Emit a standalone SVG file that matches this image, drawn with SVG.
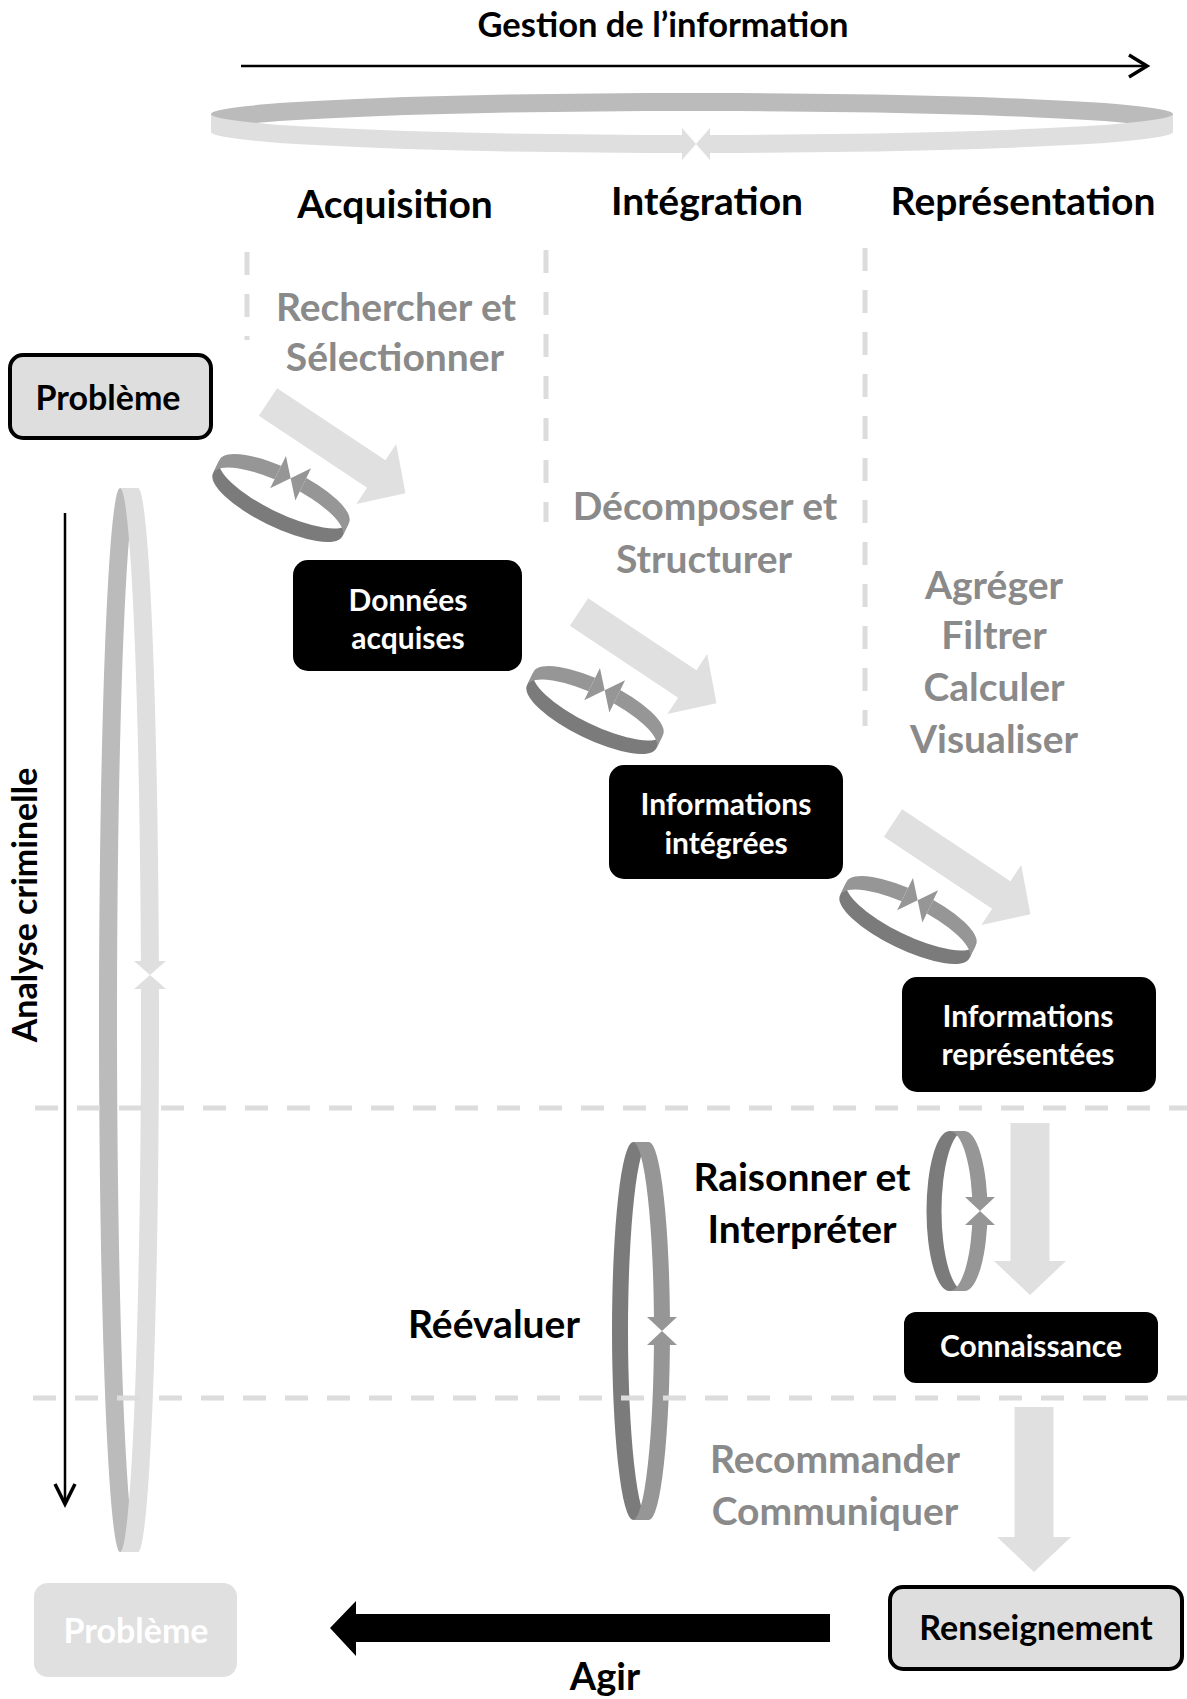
<svg xmlns="http://www.w3.org/2000/svg" xmlns:xlink="http://www.w3.org/1999/xlink" width="1187" height="1699" viewBox="0 0 1187 1699">
  <style>
    text { font-family: Lato, "Open Sans", "Liberation Sans", sans-serif; font-weight: 700; text-anchor: middle; }
    .head { font-size: 39px; fill: #000; }
    .step { font-size: 39px; fill: #8a8a8a; }
    .dark { font-size: 30px; fill: #fff; }
    .end { font-size: 34px; fill: #000; }
    .boxDark { fill: #000; }
    .boxEnd { fill: #dedede; stroke: #000; stroke-width: 4; }
    .flow { fill: #e0e0e0; }
    .guide { stroke: #dcdcdc; stroke-width: 5; stroke-dasharray: 23 19; fill: none; }
    .line { stroke: #000; stroke-width: 2.5; fill: none; }
    .chev { stroke: #000; stroke-width: 3.5; fill: none; stroke-linejoin: miter; }
    .lightBack { fill: #bbbbbb; }
    .lightFront { fill: #dfdfdf; }
    .darkBack { fill: #7b7b7b; }
    .darkFront { fill: #969696; }
  </style>
  <defs>
    <!-- clip that opens a gap in a ring band where the two arrow tips meet -->
    <clipPath id="cut" clipPathUnits="userSpaceOnUse">
      <path clip-rule="evenodd" d="M-2000,-2000 H2000 V2000 H-2000 Z M-14,-2000 V2000 H14 V-2000 Z"/>
    </clipPath>
    <clipPath id="cutS" clipPathUnits="userSpaceOnUse">
      <path clip-rule="evenodd" d="M-2000,-2000 H2000 V2000 H-2000 Z M-14,-2000 V2000 H14 V-2000 Z"/>
    </clipPath>
    <!-- small tilted cycle between two steps -->
    <g id="smallRing">
      <path class="darkBack" d="M-72,-7.5 A72 22 0 0 1 72,-7.5 L72,7.5 A72 22 0 0 0 -72,7.5 Z"/>
      <path class="darkFront" clip-path="url(#cutS)" d="M-72,-7.5 A72 22 0 0 0 72,-7.5 L72,7.5 A72 22 0 0 1 -72,7.5 Z"/>
      <path class="darkFront" d="M-14,4 L-14,40 L0,22 Z M14,4 L14,40 L0,22 Z"/>
    </g>
    <!-- broad diagonal flow arrow -->
    <path id="diagArrow" d="M0,-16.5 H130 V-36 L165,0 L130,36 V16.5 H0 Z"/>
  </defs>

  <!-- title and top arrow -->
  <g id="gestion">
    <text x="663" y="37" style="font-size:34.5px">Gestion de l’information</text>
    <path class="line" d="M241,66 H1145"/>
    <polyline class="chev" points="1129,55 1147,66 1129,77"/>
  </g>

  <!-- cycles -->
  <g id="cycles">
    <g id="ringTop" transform="translate(696,123)">
      <path class="lightBack" d="M-485,-9 A481 21 0 0 1 477,-9 L477,9 A481 21 0 0 0 -485,9 Z"/>
      <path class="lightFront" clip-path="url(#cut)" d="M-485,-9 A481 21 0 0 0 477,-9 L477,9 A481 21 0 0 1 -485,9 Z"/>
      <path class="lightFront" d="M-14,5 L-14,37 L0,21 Z M14,5 L14,37 L0,21 Z"/>
    </g>
    <g id="ringLeft" transform="translate(129,975) rotate(-90)">
      <path class="lightBack" d="M-577,-9 A532 21 0 0 1 487,-9 L487,9 A532 21 0 0 0 -577,9 Z"/>
      <path class="lightFront" clip-path="url(#cut)" d="M-577,-9 A532 21 0 0 0 487,-9 L487,9 A532 21 0 0 1 -577,9 Z"/>
      <path class="lightFront" d="M-14,5 L-14,37 L0,21 Z M14,5 L14,37 L0,21 Z"/>
    </g>
    <use xlink:href="#smallRing" transform="translate(281,498) rotate(206)"/>
    <use xlink:href="#smallRing" transform="translate(595,710) rotate(206)"/>
    <use xlink:href="#smallRing" transform="translate(908,920) rotate(206)"/>
    <g id="ringRaisonner" transform="translate(957,1211) rotate(-90)">
      <path class="darkBack" d="M-80,-7.5 A80 23 0 0 1 80,-7.5 L80,7.5 A80 23 0 0 0 -80,7.5 Z"/>
      <path class="darkFront" clip-path="url(#cut)" d="M-80,-7.5 A80 23 0 0 0 80,-7.5 L80,7.5 A80 23 0 0 1 -80,7.5 Z"/>
      <path class="darkFront" d="M-14,8 L-14,38 L0,23 Z M14,8 L14,38 L0,23 Z"/>
    </g>
    <g id="ringReevaluer" transform="translate(641,1331) rotate(-90)">
      <path class="darkBack" d="M-189,-8 A189 21 0 0 1 189,-8 L189,8 A189 21 0 0 0 -189,8 Z"/>
      <path class="darkFront" clip-path="url(#cut)" d="M-189,-8 A189 21 0 0 0 189,-8 L189,8 A189 21 0 0 1 -189,8 Z"/>
      <path class="darkFront" d="M-14,6 L-14,36 L0,21 Z M14,6 L14,36 L0,21 Z"/>
    </g>
  </g>

  <!-- phase separators -->
  <g id="guides">
    <path class="guide" d="M247,252 V340"/>
    <path class="guide" d="M546,250 V522"/>
    <path class="guide" d="M865,248 V726"/>
    <path class="guide" d="M35,1108 H1187"/>
    <path class="guide" d="M33,1398 H1187"/>
  </g>

  <!-- connectors -->
  <g id="connectors">
    <use xlink:href="#diagArrow" class="flow" transform="translate(268,402) rotate(33.6)"/>
    <use xlink:href="#diagArrow" class="flow" transform="translate(579,612) rotate(33.6)"/>
    <use xlink:href="#diagArrow" class="flow" transform="translate(893,823) rotate(33.6)"/>
    <path class="flow" d="M1010.5,1123 H1049.5 V1261 H1066 L1030,1295 L994,1261 H1010.5 Z"/>
    <path class="flow" d="M1014.5,1407 H1053.5 V1537 H1071 L1034,1572 L997,1537 H1014.5 Z"/>
    <path fill="#000" d="M830,1614 V1642 H356 V1656 L330,1628 L356,1601 V1614 Z"/>
    <path class="line" d="M65,513 V1502"/>
    <polyline class="chev" points="55,1484 65,1504 75,1484"/>
  </g>

  <!-- labels -->
  <g id="labels">
    <text class="head" x="395" y="218">Acquisition</text>
    <text class="head" x="707" y="215">Intégration</text>
    <text class="head" x="1023" y="215">Représentation</text>
    <text class="step" x="396" y="321">Rechercher et</text>
    <text class="step" x="395" y="371">Sélectionner</text>
    <text class="step" x="705" y="520">Décomposer et</text>
    <text class="step" x="704" y="573">Structurer</text>
    <text class="step" x="994" y="599">Agréger</text>
    <text class="step" x="994" y="649">Filtrer</text>
    <text class="step" x="994" y="701">Calculer</text>
    <text class="step" x="994" y="753">Visualiser</text>
    <text class="head" x="802" y="1191">Raisonner et</text>
    <text class="head" x="802" y="1243">Interpréter</text>
    <text class="head" x="494" y="1338">Réévaluer</text>
    <text class="step" x="835" y="1473">Recommander</text>
    <text class="step" x="835" y="1525">Communiquer</text>
    <text class="head" x="605" y="1690" style="font-size:38px">Agir</text>
    <text class="head" transform="translate(37,905) rotate(-90)" style="font-size:34px">Analyse criminelle</text>
  </g>

  <!-- nodes -->
  <g id="probleme">
    <rect class="boxEnd" x="10" y="355" width="201" height="83" rx="13"/>
    <text class="end" x="108" y="410">Problème</text>
  </g>
  <g id="donnees">
    <rect class="boxDark" x="293" y="560" width="229" height="111" rx="15"/>
    <text class="dark" x="408" y="611">Données</text>
    <text class="dark" x="408" y="649">acquises</text>
  </g>
  <g id="integrees">
    <rect class="boxDark" x="609" y="765" width="234" height="114" rx="15"/>
    <text class="dark" x="726" y="815">Informations</text>
    <text class="dark" x="726" y="854">intégrées</text>
  </g>
  <g id="representees">
    <rect class="boxDark" x="902" y="977" width="254" height="115" rx="15"/>
    <text class="dark" x="1028" y="1027">Informations</text>
    <text class="dark" x="1028" y="1065">représentées</text>
  </g>
  <g id="connaissance">
    <rect class="boxDark" x="904" y="1312" width="254" height="71" rx="12"/>
    <text class="dark" x="1031" y="1357">Connaissance</text>
  </g>
  <g id="renseignement">
    <rect class="boxEnd" x="890" y="1587" width="292" height="82" rx="13"/>
    <text class="end" x="1036" y="1640">Renseignement</text>
  </g>
  <g id="problemeFin">
    <rect fill="#e0e0e0" x="34" y="1583" width="203" height="94" rx="14"/>
    <text class="end" x="136" y="1643" style="fill:#fff">Problème</text>
  </g>
</svg>
